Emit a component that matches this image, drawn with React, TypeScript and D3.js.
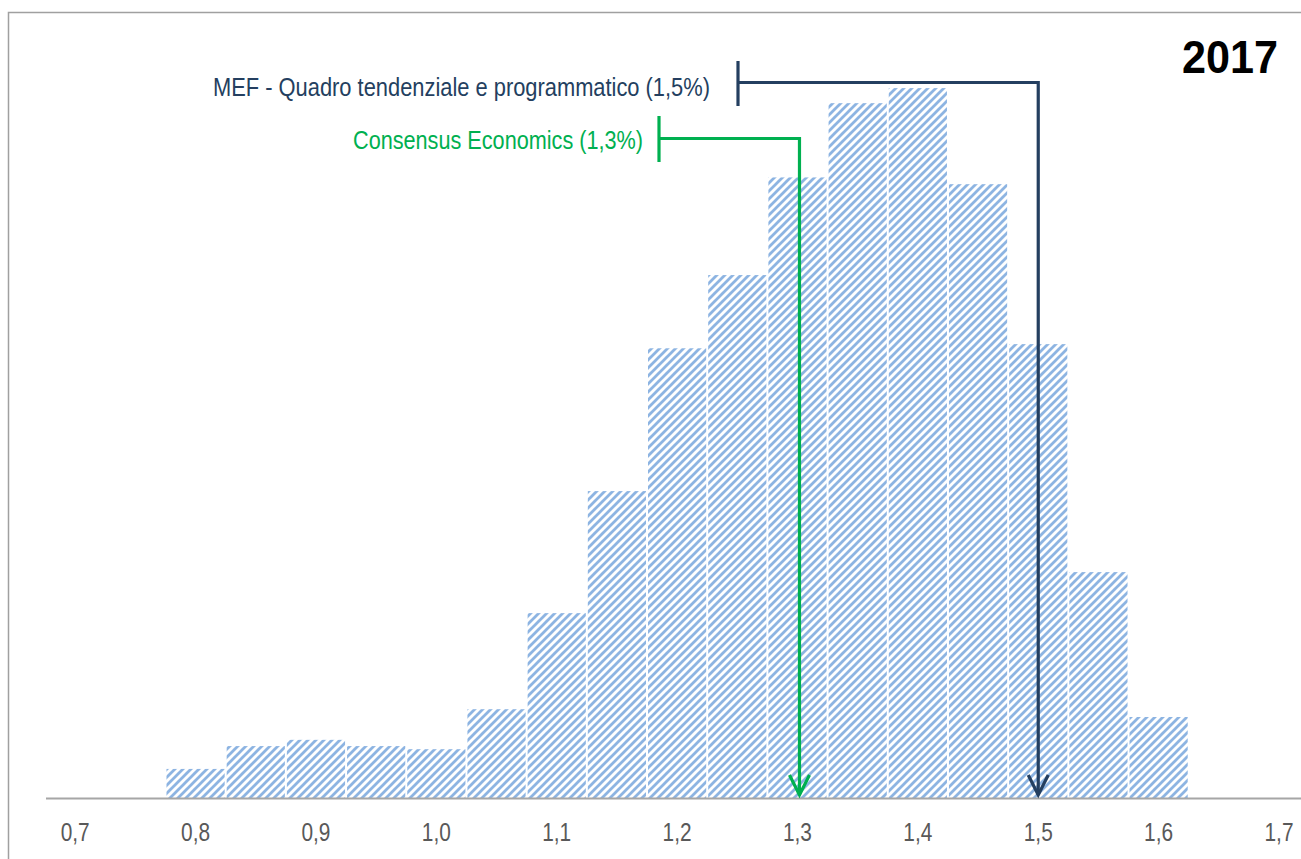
import React from "react";
import * as d3 from "d3";

// bin centres (GDP growth, %) and frequency of each bin (%)
const binCentres = [0.8, 0.85, 0.9, 0.95, 1.0, 1.05, 1.1, 1.15, 1.2, 1.25, 1.3, 1.35, 1.4, 1.45, 1.5, 1.55, 1.6];
const frequencies = [0.56, 1.0, 1.12, 1.0, 0.94, 1.71, 3.56, 5.91, 8.66, 10.07, 11.95, 13.38, 13.67, 11.82, 8.74, 4.35, 1.56];
const tickValues = [0.7, 0.8, 0.9, 1.0, 1.1, 1.2, 1.3, 1.4, 1.5, 1.6, 1.7];

const mefLabel = "MEF - Quadro tendenziale e programmatico (1,5%)";
const mefValue = 1.5;
const consensusLabel = "Consensus Economics (1,3%)";
const consensusValue = 1.3;
const yearLabel = "2017";

const W = 1301;
const H = 859;
// no Arial Narrow here, so Liberation Sans squeezed to width
const sans = "'Liberation Sans', Arial, sans-serif";

const App = () => {
  const x = d3.scaleLinear().domain([0.7, 1.7]).range([75.2, 1279]);
  const y = d3.scaleLinear().domain([0, 14.5]).range([798, 45]);
  const fmt = (v: number) => d3.format(".1f")(v).replace(".", ",");
  const half = 0.025;
  const base = y(0);

  const arrowHead = (ax: number, tip: number) =>
    `M${ax - 10},${tip - 20} L${ax},${tip} L${ax + 10},${tip - 20}`;

  const mefX = x(mefValue);
  const conX = x(consensusValue) + 2;
  const tip = base - 3;

  return (
    <div style={{ position: "absolute", left: 0, top: 0 }}>
      <svg width={W} height={H} style={{ display: "block", background: "#fff" }}>
        <defs>
          <pattern id="hatch" patternUnits="userSpaceOnUse" width={8} height={8}>
            <rect width={8} height={8} fill="#ffffff" />
            <path
              d="M-2,2 L2,-2 M0,8 L8,0 M6,10 L10,6"
              stroke="#8db4e2"
              strokeWidth={2.8}
            />
          </pattern>
        </defs>

        <rect x={8.5} y={12.5} width={1310} height={870} fill="none" stroke="#a0a0a0" strokeWidth={1.5} />

        <g className="bars">
          {binCentres.map((c, i) => (
            <rect
              key={i}
              x={x(c - half) + 1}
              y={y(frequencies[i])}
              width={x(c + half) - x(c - half) - 2}
              height={base - y(frequencies[i])}
              fill="url(#hatch)"
            />
          ))}
        </g>

        <line x1={46} x2={W} y1={base + 0.5} y2={base + 0.5} stroke="#a6a6a6" strokeWidth={2} />

        <g className="ticks" fontFamily={sans} fontSize={26.5} fill="#595959" textAnchor="middle">
          {tickValues.map((t) => (
            <text key={t} x={x(t)} y={840.5} textLength={29} lengthAdjust="spacingAndGlyphs">
              {fmt(t)}
            </text>
          ))}
        </g>

        {/* MEF annotation */}
        <g stroke="#243f60" strokeWidth={3.2} fill="none">
          <line x1={738} x2={738} y1={61} y2={106} />
          <polyline points={`738,82.5 ${mefX},82.5 ${mefX},${tip}`} />
          <path d={arrowHead(mefX, tip)} />
        </g>
        <text x={213} y={96} fontFamily={sans} fontSize={25} fill="#243f60" textLength={497} lengthAdjust="spacingAndGlyphs">
          {mefLabel}
        </text>

        {/* Consensus annotation */}
        <g stroke="#00b050" strokeWidth={3.2} fill="none">
          <line x1={659} x2={659} y1={116} y2={162} />
          <polyline points={`659,138.5 ${conX},138.5 ${conX},${tip}`} />
          <path d={arrowHead(conX, tip)} />
        </g>
        <text x={353} y={149} fontFamily={sans} fontSize={25} fill="#00b050" textLength={290} lengthAdjust="spacingAndGlyphs">
          {consensusLabel}
        </text>

        <text x={1182} y={73} fontFamily={sans} fontWeight="bold" fontSize={46} fill="#000" textLength={96} lengthAdjust="spacingAndGlyphs">
          {yearLabel}
        </text>
      </svg>
    </div>
  );
};

export default App;
